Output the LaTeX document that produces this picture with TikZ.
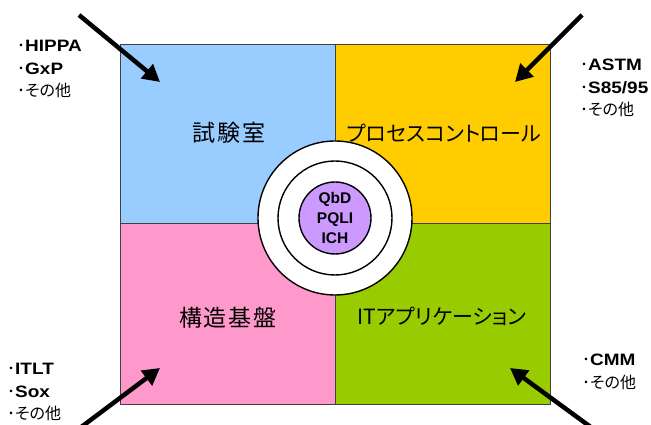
\documentclass[tikz,border=0pt]{standalone}
\usepackage{fontspec}
\setmainfont{Liberation Sans}
\newfontfamily\wide[FakeStretch=1.15]{Liberation Sans}
\newfontfamily\jp[RawFeature=+palt]{Noto Sans CJK JP}
\usetikzlibrary{arrows.meta}
\definecolor{qblue}{HTML}{99CCFF}
\definecolor{qorange}{HTML}{FFCC00}
\definecolor{qpink}{HTML}{FF99CC}
\definecolor{qgreen}{HTML}{99CC00}
\definecolor{qpurple}{HTML}{CC99FF}
\tikzset{
  quad/.style={draw=black!75, line width=0.8pt},
  ring/.style={draw=black, line width=1.4pt, fill=white, circle, inner sep=0pt},
  qlabel/.style={font=\fontsize{23}{26}\selectfont\jp, inner sep=0pt},
  klabel/.style={font=\fontsize{21}{26}\selectfont\jp, inner sep=0pt},
  side/.style={font=\fontsize{16.5}{22.5}\selectfont, align=left, inner sep=0pt, anchor=west},
  bigarrow/.style={line width=4.5pt, -{Triangle[length=17pt,width=18pt]}},
}
\newcommand{\bul}{{\fontsize{16}{22.5}\selectfont\jp ･}}
\newcommand{\etc}{{\fontsize{16}{22.5}\selectfont\jp ･その他}}
\newcommand{\bw}[1]{{\wide\bfseries #1}}
\begin{document}
\begin{tikzpicture}[x=1pt,y=1pt]
\fill[white] (0,0) rectangle (651,425);
\clip (0,0) rectangle (651,425);
\useasboundingbox (0,0) rectangle (651,425);
% quadrants
\filldraw[quad, fill=qblue] (120,202) rectangle (335,381);
\filldraw[quad, fill=qorange] (335,202) rectangle (550,381);
\filldraw[quad, fill=qpink] (120,21) rectangle (335,202);
\filldraw[quad, fill=qgreen] (335,21) rectangle (550,202);
% labels
\node[qlabel] (lab) at (229,292) {試\kern2pt 験\kern2pt 室};
\node[klabel] (proc) at (444,292) {プロセスコントロール};
\node[qlabel] (infra) at (228,107) {構\kern2pt 造\kern2pt 基\kern2pt 盤};
\node[klabel] (itapp) at (442,109) {ITアプリケーション};
% circles
\node[ring, minimum size=154pt] (outer) at (335,207) {};
\node[ring, minimum size=114pt] (middle) at (335,207) {};
\node[ring, minimum size=72pt, fill=qpurple, align=center,
      font=\fontsize{15.5}{20}\selectfont\bfseries] (core) at (335,207) {QbD\\PQLI\\ICH};
% side lists
\node[side] (tl) at (17,356) {\bul\bw{HIPPA}\\\bul\bw{GxP}\\\etc};
\node[side] (tr) at (580,337) {\bul\bw{ASTM}\\\bul\bw{S85/95}\\\etc};
\node[side] (bl) at (7,33) {\bul\bw{ITLT}\\\bul\bw{Sox}\\\etc};
\node[side] (br) at (582,53) {\bul\bw{CMM}\\\etc};
% arrows
\coordinate (tls) at (79,410);
\coordinate (tlt) at (160,343);
\coordinate (trs) at (582,410);
\coordinate (trt) at (515,343);
\coordinate (bls) at (80,-3);
\coordinate (blt) at (160,57);
\coordinate (brs) at (592,-3);
\coordinate (brt) at (510,57);
\draw[bigarrow] (tls) -- (tlt);
\draw[bigarrow] (trs) -- (trt);
\draw[bigarrow] (bls) -- (blt);
\draw[bigarrow] (brs) -- (brt);
\end{tikzpicture}
\end{document}
